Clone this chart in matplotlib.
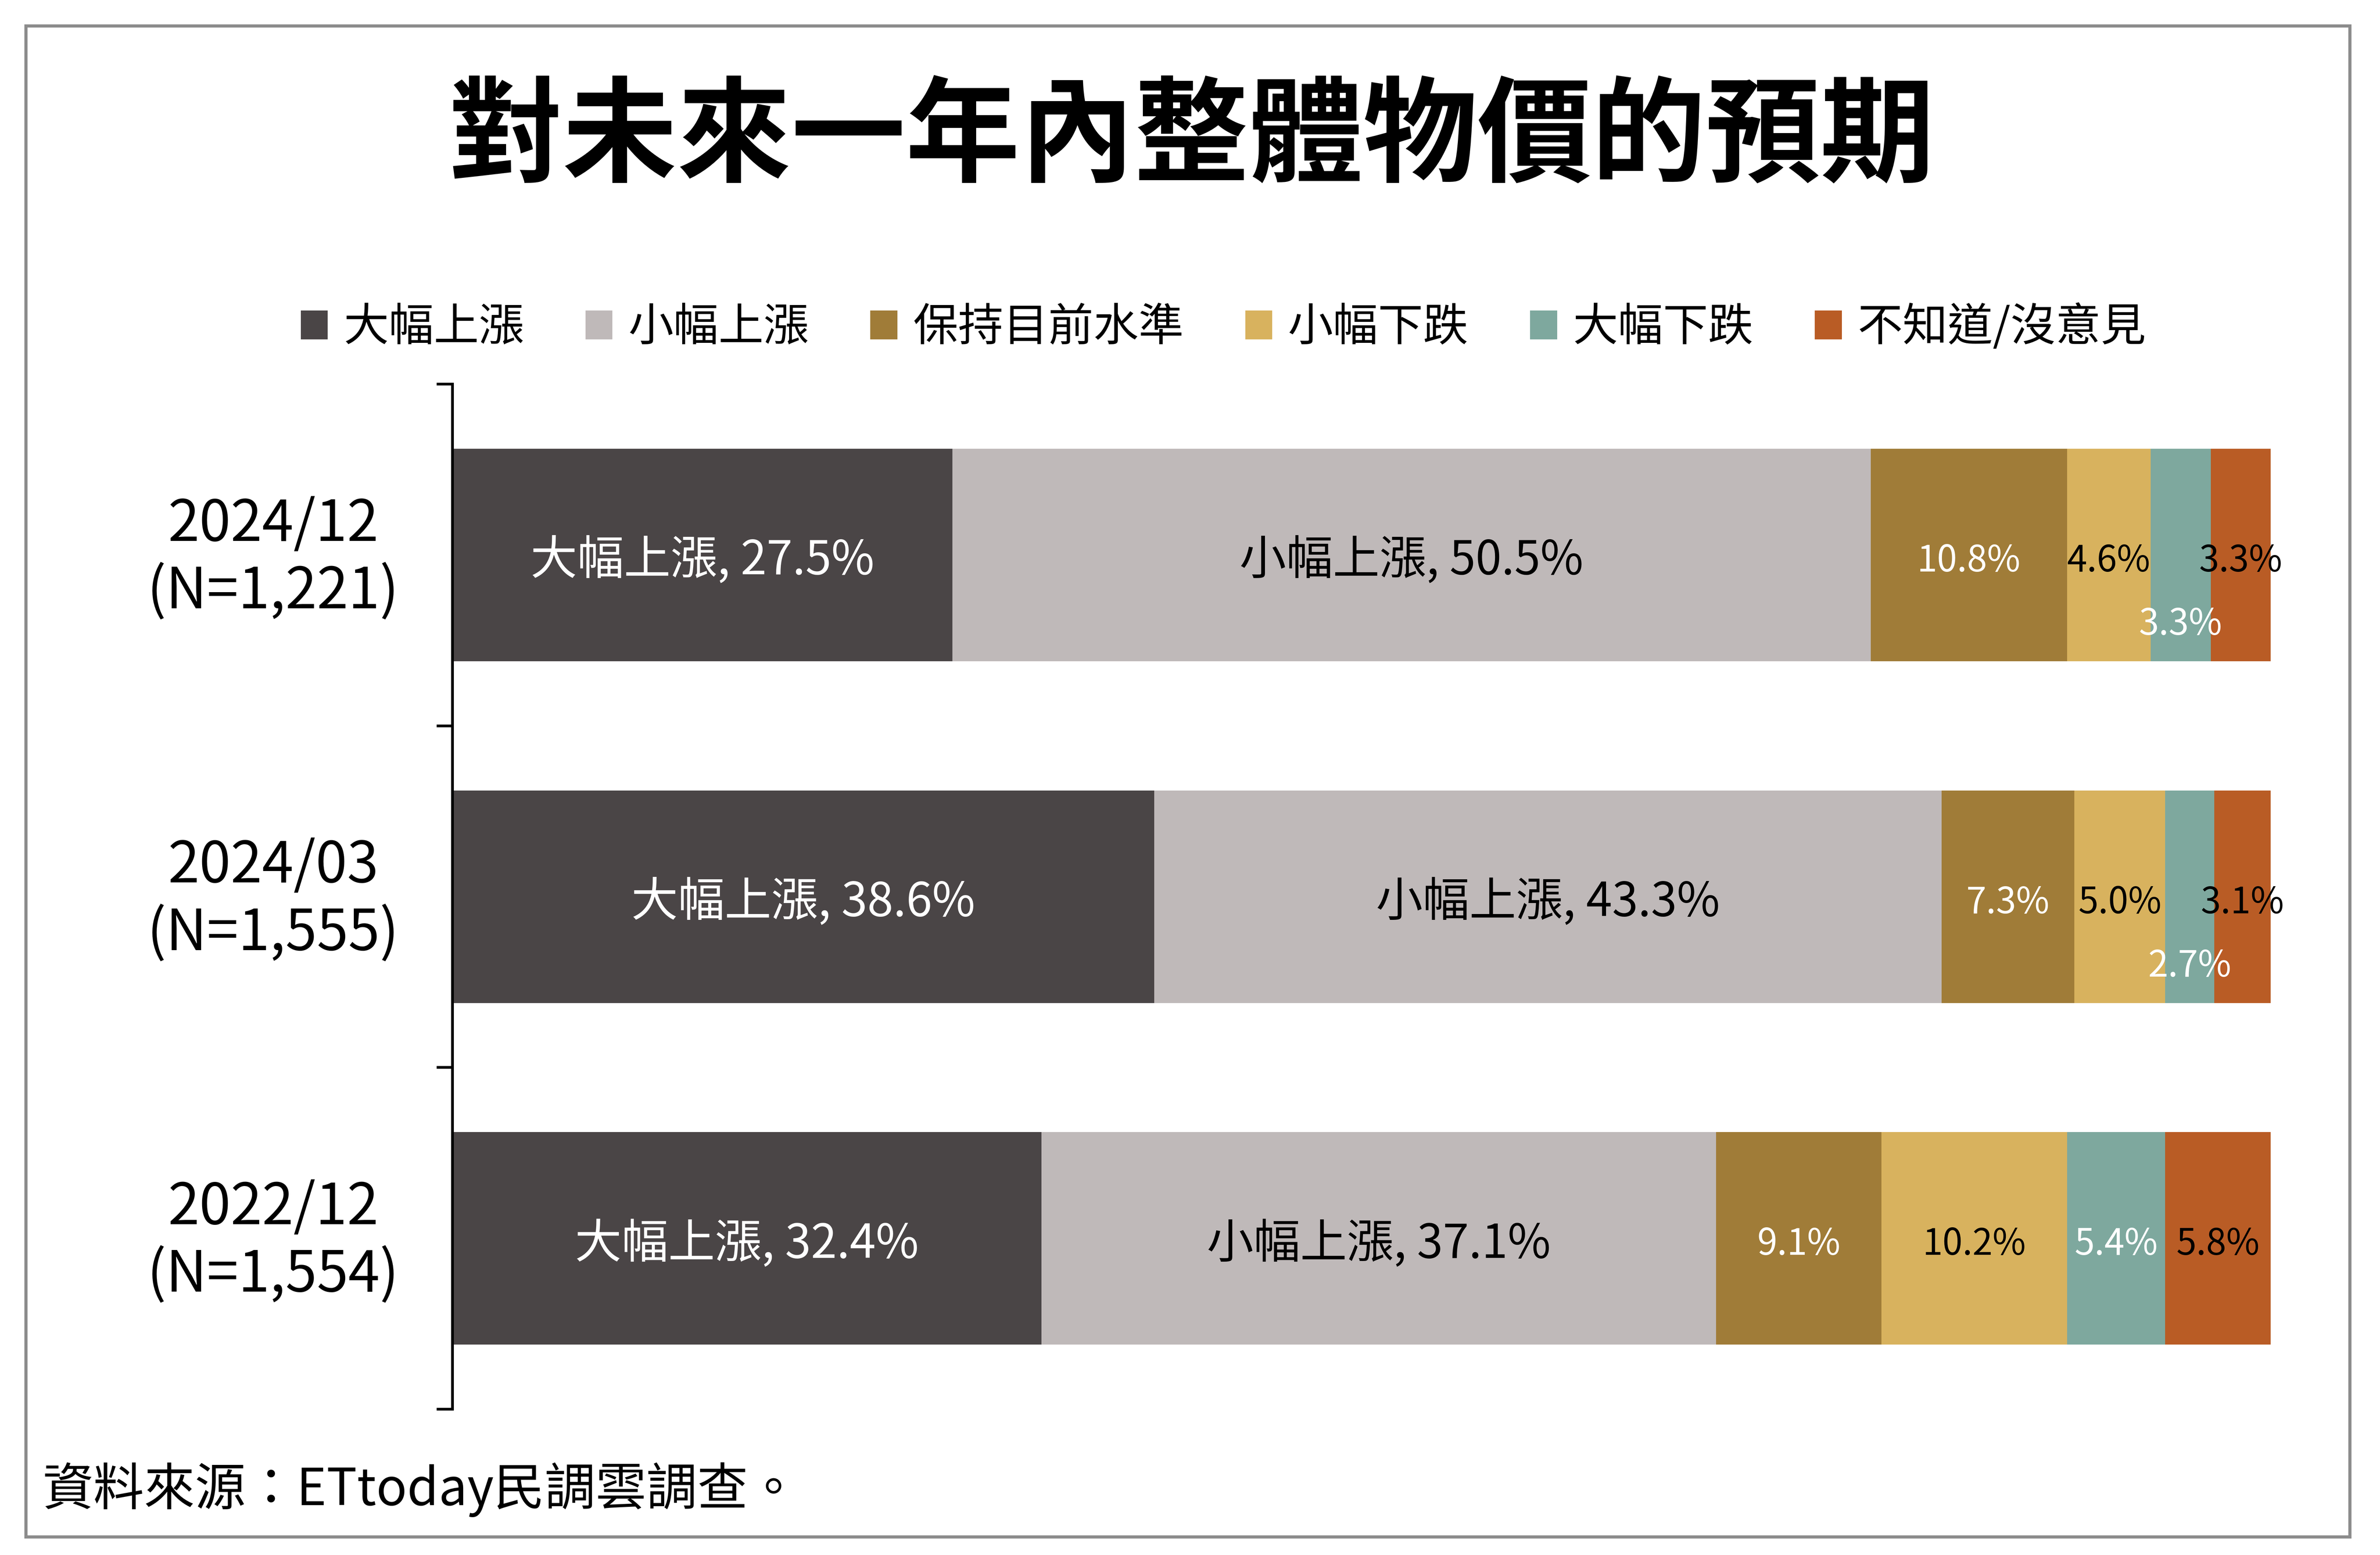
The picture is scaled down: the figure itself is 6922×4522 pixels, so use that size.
import matplotlib
matplotlib.use("Agg")
import matplotlib.pyplot as plt
from matplotlib.patches import Rectangle, Patch
import numpy as np

plt.rcParams['font.family'] = ['Noto Sans CJK TC', 'DejaVu Sans']

title = "對未來一年內整體物價的預期"
source = "資料來源：ETtoday民調雲調查。"
categories = ["2024/12\n(N=1,221)", "2024/03\n(N=1,555)", "2022/12\n(N=1,554)"]
series_names = ["大幅上漲", "小幅上漲", "保持目前水準", "小幅下跌", "大幅下跌", "不知道/沒意見"]
s_big_up = [27.5, 38.6, 32.4]
s_small_up = [50.5, 43.3, 37.1]
s_same = [10.8, 7.3, 9.1]
s_small_down = [4.6, 5.0, 10.2]
s_big_down = [3.3, 2.7, 5.4]
s_unknown = [3.3, 3.1, 5.8]
series_values = [s_big_up, s_small_up, s_same, s_small_down, s_big_down, s_unknown]

colors = ["#4A4546", "#BFB9B9", "#A07C38", "#D8B25E", "#7EA89E", "#B95C25"]
text_colors = ["white", "black", "white", "black", "white", "black"]
# vertical offset of some labels (series index, row) -> offset in data units
label_offsets = {(4, 0): 0.185, (4, 1): 0.185}

W, H = 6922, 4522
dpi = 300
fig = plt.figure(figsize=(W / dpi, H / dpi), dpi=dpi)
fig.patch.set_facecolor("white")

# outer frame
fig.patches.append(Rectangle((17 / 1568, 1 - 1012 / 1024), (1548 - 17) / 1568, (1012 - 17) / 1024,
                             transform=fig.transFigure, fill=False, edgecolor="#8C8C8C", linewidth=2.2))

ax = fig.add_axes([298 / 1568, 1 - 928 / 1024, (1496 - 298) / 1568, (928 - 253) / 1024])
y = np.arange(len(categories))
left = np.zeros(len(categories))
bar_h = 140 / 225
for i, (name, vals) in enumerate(zip(series_names, series_values)):
    vals = np.array(vals)
    ax.barh(y, vals, left=left, height=bar_h, color=colors[i], label=name, edgecolor="none")
    for j, v in enumerate(vals):
        cx = left[j] + v / 2
        cy = y[j] + 0.018 + label_offsets.get((i, j), 0)
        if i < 2:
            txt = f"{name}, {v:.1f}%"
            fs = 32.6
        else:
            txt = f"{v:.1f}%"
            fs = 25.2
        ax.text(cx, cy, txt, ha="center", va="center", color=text_colors[i], fontsize=fs)
    left += vals

ax.set_xlim(0, 100)
ax.set_ylim(2.5, -0.5)
ax.set_xticks([])
ax.set_yticks([-0.5, 0.5, 1.5, 2.5])
ax.set_yticklabels([])
ax.tick_params(axis="y", direction="out", length=11, width=1.9, color="black")
for s in ["top", "right", "bottom"]:
    ax.spines[s].set_visible(False)
ax.spines["left"].set_linewidth(1.9)
ax.spines["left"].set_color("black")

for j, c in enumerate(categories):
    ax.text(-0.0985, y[j] + 0.01, c, transform=ax.get_yaxis_transform(), ha="center", va="center",
            fontsize=39.5, linespacing=1.2)

fig.text(785 / 1568, 1 - 92 / 1024, title, ha="center", va="center", fontsize=79.8, fontweight="bold")

handles = [Patch(facecolor=colors[i], edgecolor="none", label=series_names[i]) for i in range(6)]
fig.legend(handles=handles, loc="center", bbox_to_anchor=(806 / 1568, 1 - 216 / 1024), ncol=6,
           frameon=False, fontsize=31.5, handlelength=0.6, handleheight=0.6, handletextpad=0.35,
           columnspacing=1.36, borderpad=0)

fig.text(28 / 1568, 1 - 981 / 1024, source, ha="left", va="center", fontsize=35.5)

fig.savefig("out.png", dpi=dpi, facecolor="white")
